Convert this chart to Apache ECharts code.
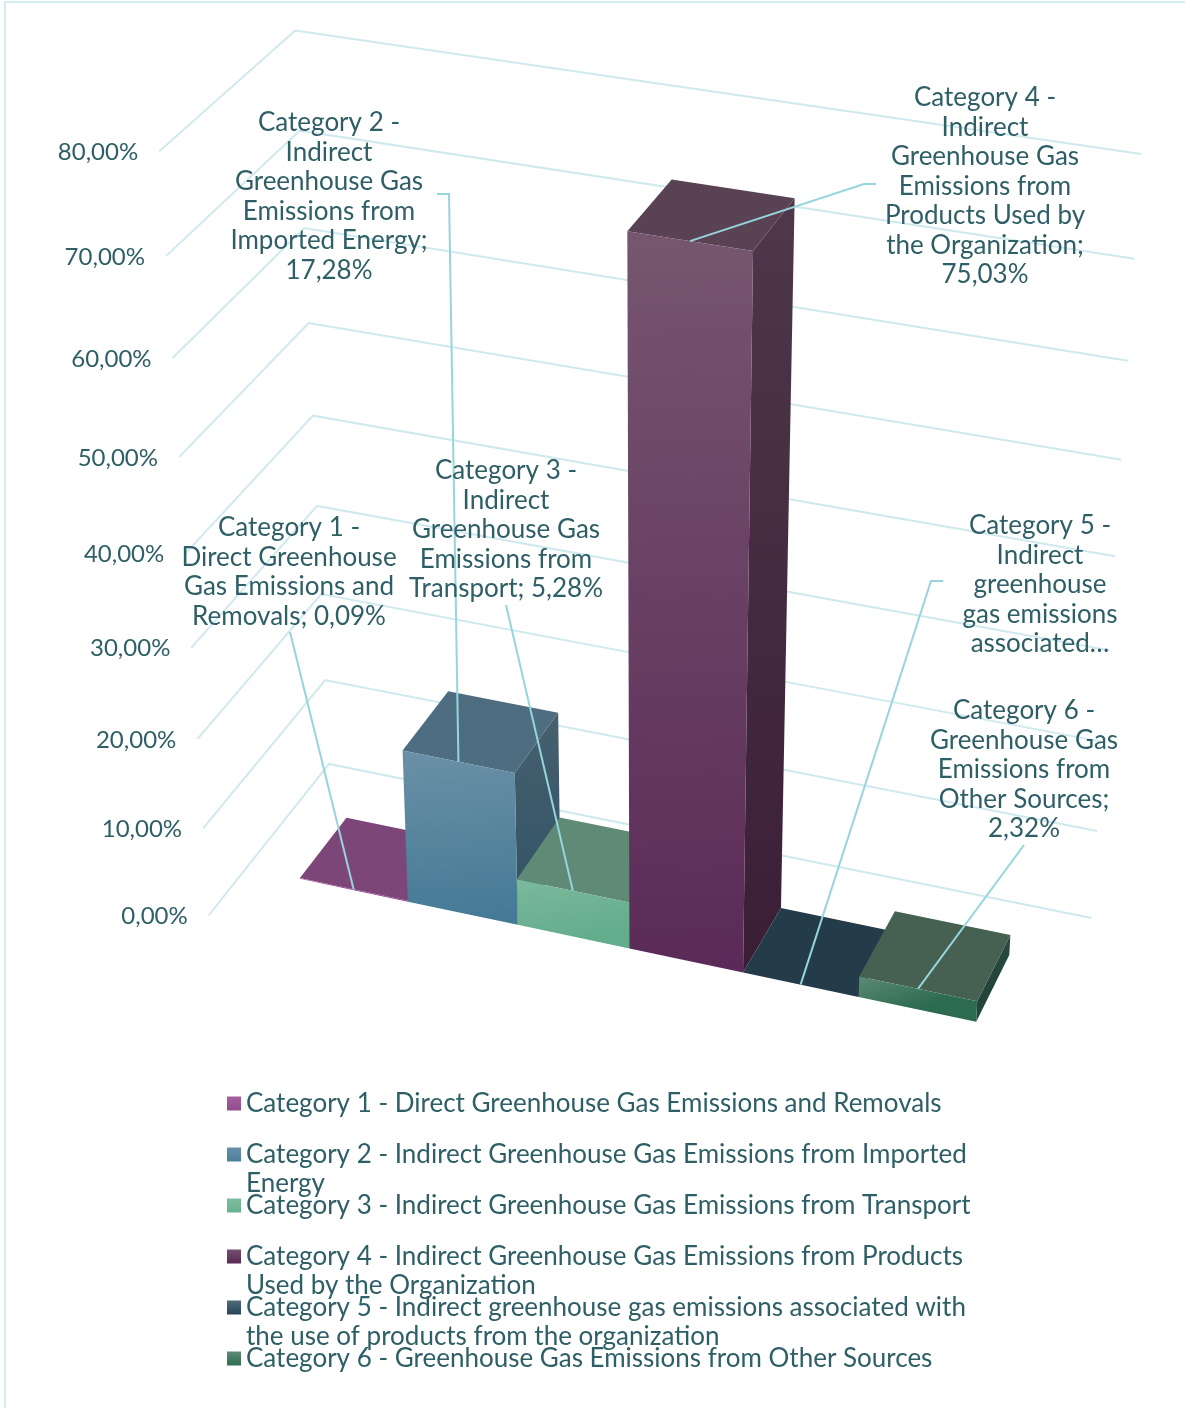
<!DOCTYPE html>
<html>
<head>
<meta charset="utf-8">
<style>
  html, body { margin: 0; background: #fff; }
  #main { width: 1185px; height: 1408px; }
</style>
<script src="https://cdn.jsdelivr.net/npm/echarts@6/dist/echarts.min.js"></script>
</head>
<body>
<div id="main"></div>
<script>
// chart values
var categories = [
  'Category 1 - Direct Greenhouse Gas Emissions and Removals',
  'Category 2 - Indirect Greenhouse Gas Emissions from Imported Energy',
  'Category 3 - Indirect Greenhouse Gas Emissions from Transport',
  'Category 4 - Indirect Greenhouse Gas Emissions from Products Used by the Organization',
  'Category 5 - Indirect greenhouse gas emissions associated with the use of products from the organization',
  'Category 6 - Greenhouse Gas Emissions from Other Sources'
];
var values = [0.09, 17.28, 5.28, 75.03, 0, 2.32];
var tickValues = [0, 10, 20, 30, 40, 50, 60, 70, 80];
var tickLabels = ['0,00%', '10,00%', '20,00%', '30,00%', '40,00%', '50,00%', '60,00%', '70,00%', '80,00%'];
var dataLabels = [
  'Category 1 -\nDirect Greenhouse\nGas Emissions and\nRemovals; 0,09%',
  'Category 2 -\nIndirect\nGreenhouse Gas\nEmissions from\nImported Energy;\n17,28%',
  'Category 3 -\nIndirect\nGreenhouse Gas\nEmissions from\nTransport; 5,28%',
  'Category 4 -\nIndirect\nGreenhouse Gas\nEmissions from\nProducts Used by\nthe Organization;\n75,03%',
  'Category 5 -\nIndirect\ngreenhouse\ngas emissions\nassociated…',
  'Category 6 -\nGreenhouse Gas\nEmissions from\nOther Sources;\n2,32%'
];
var legendLines = [
  'Category 1 - Direct Greenhouse Gas Emissions and Removals\n',
  'Category 2 - Indirect Greenhouse Gas Emissions from Imported\nEnergy',
  'Category 3 - Indirect Greenhouse Gas Emissions from Transport\n',
  'Category 4 - Indirect Greenhouse Gas Emissions from Products\nUsed by the Organization',
  'Category 5 - Indirect greenhouse gas emissions associated with\nthe use of products from the organization',
  'Category 6 - Greenhouse Gas Emissions from Other Sources\n'
];

// colours per bar: front top, front bottom, top face, side top, side bottom, legend top, legend bottom
var barColors = [
  ['#a8629f', '#8e4489', '#7c4678', '#5f3a5c', '#4f2e4c', '#a4609f', '#924b8e'],
  ['#6a90a6', '#457a96', '#4f6d80', '#47606f', '#2f5265', '#6791a8', '#4a7f9b'],
  ['#7cb99c', '#62ad8c', '#5f8a75', '#4d7561', '#42705a', '#7fbca0', '#66b08f'],
  ['#76566f', '#5b2a58', '#5a4255', '#4f384b', '#3a1e36', '#74506f', '#572856'],
  ['#4a6273', '#24404f', '#243b49', '#1d3240', '#1d3240', '#4f6879', '#27465a'],
  ['#5c8a75', '#2d6b50', '#466052', '#2a4a40', '#21413a', '#5d8a75', '#306d52']
];
var textColor = '#2f5f66';
var gridColor = '#cfe9ee';
var leaderColor = '#96d5dc';
var fontFamily = 'Lato, sans-serif';
var fontSize = 26;
var tickFontSize = 24;

// layout of the callouts: centre x and top y of the text, then the free end of the leader line
var labelPos = [[289, 513], [329, 108], [506, 456], [985, 83], [1040, 511], [1024, 696]];
var leaderStart = [
  [[290, 632]],
  [[437, 194], [449, 194]],
  [[506, 605]],
  [[876, 184], [864, 184]],
  [[943, 581], [931, 581]],
  [[1024, 845]]
];

// perspective of the 3D box, model units: x = category, y = tens of percent, z = bar depth
var PROJ = [104.6323, -8.094775, 54.40787, 299.9301, 15.36951, -96.09967, -41.63766, 878.8118, -0.008275737, -0.01245878, 0.02274653];
var WALL_LEFT = -0.4994, WALL_RIGHT = 6.5054, WALL_BACK = 1.7631, WALL_FRONT = -0.7669;

function project(x, y, z) {
  var p = PROJ;
  var w = p[8] * x + p[9] * y + p[10] * z + 1;
  return [(p[0] * x + p[1] * y + p[2] * z + p[3]) / w, (p[4] * x + p[5] * y + p[6] * z + p[7]) / w];
}

// the hidden grid is 100px per category and 10px per percent, so its pixels are model units x 100
function toModel(pt) {
  return [pt[0] / 100, (800 - pt[1]) / 100];
}

function renderWall(params, api) {
  var m = toModel(api.coord([0, api.value(1)]));
  var y = m[1];
  var front = project(WALL_LEFT, y, WALL_FRONT);
  return {
    type: 'group',
    children: [{
      type: 'polyline',
      shape: { points: [front, project(WALL_LEFT, y, WALL_BACK), project(WALL_RIGHT, y, WALL_BACK)] },
      style: { stroke: gridColor, lineWidth: 2, fill: null }
    }, {
      type: 'text',
      style: {
        x: front[0] - 21, y: front[1] + 1, text: tickLabels[params.dataIndex],
        align: 'right', verticalAlign: 'middle', fill: textColor,
        font: tickFontSize + 'px ' + fontFamily
      }
    }]
  };
}

function renderBar(params, api) {
  var idx = api.value(0);
  var c = barColors[idx];
  var m = toModel(api.coord([idx, api.value(1)]));
  var half = api.size([1, 0])[0] / 200;
  var x0 = m[0] - half, x1 = m[0] + half, y = m[1];
  var grad = function (a, b) {
    return new echarts.graphic.LinearGradient(0, 0, 0.12, 1, [{ offset: 0, color: a }, { offset: 1, color: b }]);
  };
  var poly = function (points, fill) {
    return { type: 'polygon', shape: { points: points }, style: { fill: fill } };
  };
  return {
    type: 'group',
    children: [
      poly([project(x1, y, 0), project(x1, y, 1), project(x1, 0, 1), project(x1, 0, 0)], grad(c[3], c[4])),
      poly([project(x0, y, 0), project(x0, y, 1), project(x1, y, 1), project(x1, y, 0)], c[2]),
      poly([project(x0, y, 0), project(x1, y, 0), project(x1, 0, 0), project(x0, 0, 0)], grad(c[0], c[1]))
    ]
  };
}

function renderCallout(params, api) {
  var idx = api.value(0);
  var m = toModel(api.coord([idx, api.value(1)]));
  var pts = leaderStart[idx].concat([project(m[0], m[1], 0)]);
  return {
    type: 'group',
    children: [{
      type: 'polyline',
      shape: { points: pts },
      style: { stroke: leaderColor, lineWidth: 2, fill: null }
    }, {
      type: 'text',
      style: {
        x: labelPos[idx][0], y: labelPos[idx][1], text: dataLabels[idx],
        align: 'center', verticalAlign: 'top', lineHeight: 29.5, fill: textColor,
        font: fontSize + 'px ' + fontFamily
      }
    }]
  };
}

var series = [{
  name: 'walls',
  type: 'custom',
  coordinateSystem: 'cartesian2d',
  renderItem: renderWall,
  silent: true,
  data: tickValues.map(function (t) { return [0, t]; })
}];
categories.forEach(function (name, i) {
  series.push({
    name: name,
    type: 'custom',
    coordinateSystem: 'cartesian2d',
    renderItem: renderBar,
    encode: { x: 0, y: 1 },
    silent: true,
    data: [[i, values[i]]]
  });
});
series.push({
  name: 'callouts',
  type: 'custom',
  coordinateSystem: 'cartesian2d',
  renderItem: renderCallout,
  silent: true,
  data: values.map(function (v, i) { return [i, v]; })
});

var legends = categories.map(function (name, i) {
  return {
    data: [name],
    left: 227,
    top: 1060 + 51 * i,
    orient: 'vertical',
    padding: 0,
    selectedMode: false,
    icon: 'rect',
    itemWidth: 14,
    itemHeight: 14,
    itemStyle: {
      color: new echarts.graphic.LinearGradient(0, 0, 0, 1, [
        { offset: 0, color: barColors[i][5] }, { offset: 1, color: barColors[i][6] }
      ])
    },
    formatter: function () { return '\n' + legendLines[i]; },
    textStyle: { color: textColor, fontFamily: fontFamily, fontSize: fontSize, lineHeight: 29 }
  };
});

var chart = echarts.init(document.getElementById('main'), null, { renderer: 'canvas' });
chart.setOption({
  animation: false,
  backgroundColor: '#fff',
  tooltip: { show: false },
  grid: { left: 0, top: 0, width: 600, height: 800 },
  xAxis: { type: 'category', show: false, data: categories },
  yAxis: { type: 'value', show: false, min: 0, max: 80, interval: 10 },
  legend: legends,
  graphic: [{
    type: 'polyline',
    silent: true,
    shape: { points: [[5, 1408], [5, 2], [1185, 2]] },
    style: { stroke: '#d3ecf0', lineWidth: 2, fill: null }
  }],
  series: series
});
</script>
</body>
</html>
